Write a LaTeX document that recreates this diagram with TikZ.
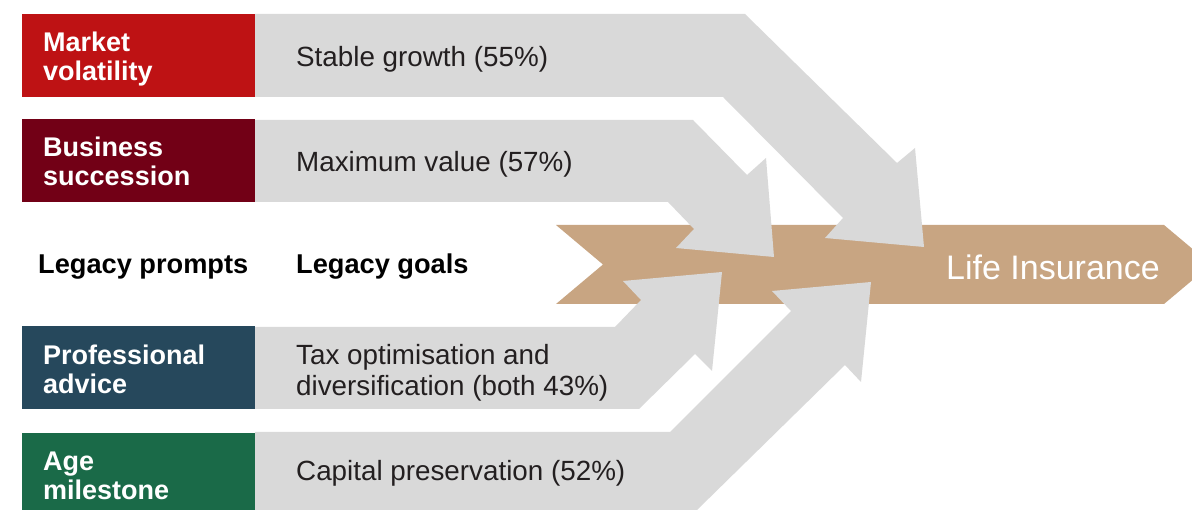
\documentclass[tikz,border=0pt]{standalone}
\usepackage{fontspec}
\setmainfont{Liberation Sans}
\usetikzlibrary{positioning}
\definecolor{MarketRed}{RGB}{190,18,20}
\definecolor{SuccessionRed}{RGB}{114,0,22}
\definecolor{AdviceBlue}{RGB}{38,72,92}
\definecolor{AgeGreen}{RGB}{26,106,72}
\definecolor{BandGrey}{RGB}{217,217,217}
\definecolor{LifeTan}{RGB}{200,165,130}
\definecolor{TextDark}{RGB}{35,31,32}

\begin{document}
\begin{tikzpicture}[x=1pt,y=-1pt,
  prompt/.style={fill=#1,minimum width=233pt,minimum height=83pt,inner sep=0pt,outer sep=0pt},
  plabel/.style={anchor=west,inner sep=0pt,text=white,align=left,font=\bfseries\fontsize{27}{29}\selectfont},
  goal/.style={anchor=west,inner sep=0pt,text=TextDark,align=left,font=\fontsize{27.8}{31}\selectfont},
  head/.style={anchor=west,inner sep=0pt,text=black,font=\bfseries\fontsize{27.2}{29}\selectfont}]
\clip (0,0) rectangle (1192,510);
\fill[white] (0,0) rectangle (1192,510);
\fill[LifeTan] (556,225) -- (1164,225) -- (1211,264.5) -- (1164,304) -- (556,304) -- (603,264.5) -- cycle;
\fill[BandGrey] (255,14) -- (745,14) -- (897,163) -- (915,148) -- (924,247) -- (825,238) -- (843,218) -- (723,97) -- (255,97) -- cycle;
\fill[BandGrey] (255,120) -- (693,120) -- (747,175) -- (766,158) -- (774,257) -- (676,248) -- (694,229) -- (668,202) -- (255,202) -- cycle;
\fill[BandGrey] (255,327) -- (615,327) -- (641,300) -- (623,281) -- (722,272) -- (712,371) -- (695,354) -- (639,409) -- (255,409) -- cycle;
\fill[BandGrey] (255,432) -- (670,432) -- (791,311) -- (772,291) -- (871,282) -- (861,382) -- (845,365) -- (697,510) -- (255,510) -- cycle;
\node[prompt=MarketRed] (mv) at (138.5,55.5) {};
\node[prompt=SuccessionRed] (bs) at (138.5,161) {};
\node[prompt=AdviceBlue] (pa) at (138.5,368) {};
\node[prompt=AgeGreen] (am) at (138.5,474.5) {};
\node[plabel] (mvt) at ([xshift=21pt,yshift=-4pt]mv.west) {Market\\volatility};
\node[plabel] (bst) at ([xshift=21pt]bs.west) {Business\\succession};
\node[plabel] (pat) at ([xshift=21pt,yshift=-1pt]pa.west) {Professional\\advice};
\node[plabel] (amt) at ([xshift=21pt,yshift=-1pt]am.west) {Age\\milestone};
\node[goal] (sg) at (296,59) {Stable growth (55\%)};
\node[goal] (mx) at (296,164) {Maximum value (57\%)};
\node[goal] (tx) at (296,373) {Tax optimisation and\\diversification (both 43\%)};
\node[goal] (cp) at (296,473.5) {Capital preservation (52\%)};
\node[head] (lp) at (38,267) {Legacy prompts};
\node[head] (lg) at (296,267) {Legacy goals};
\node[anchor=east,inner sep=0pt,text=white,font=\fontsize{34}{34}\selectfont] (life) at (1160,267) {Life Insurance};
\end{tikzpicture}
\end{document}
